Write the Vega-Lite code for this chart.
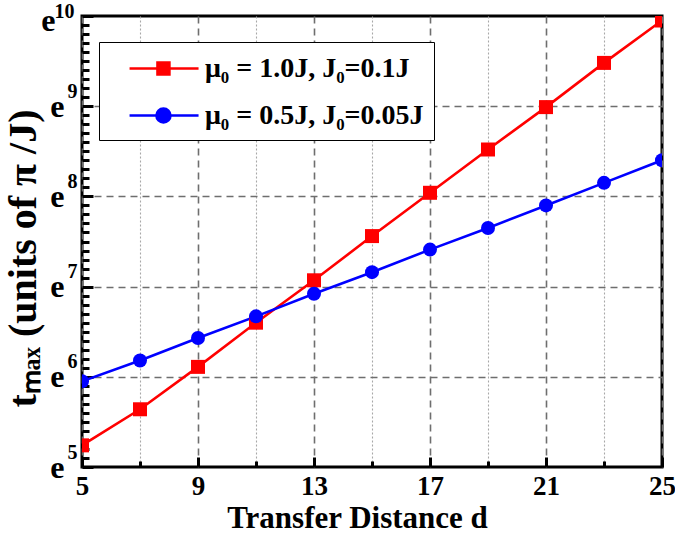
{
  "$schema": "https://vega.github.io/schema/vega-lite/v6.json",
  "width": 580,
  "height": 451,
  "autosize": {"type": "none"},
  "padding": {"left": 82, "top": 16, "right": 13, "bottom": 67},
  "background": "white",
  "config": {
    "view": {"stroke": "black", "strokeWidth": 3},
    "font": "Liberation Serif"
  },
  "data": {
    "values": [
      {"d": 5, "ln_t": 5.24, "series": "μ₀ = 1.0J, J₀=0.1J"},
      {"d": 7, "ln_t": 5.64, "series": "μ₀ = 1.0J, J₀=0.1J"},
      {"d": 9, "ln_t": 6.11, "series": "μ₀ = 1.0J, J₀=0.1J"},
      {"d": 11, "ln_t": 6.60, "series": "μ₀ = 1.0J, J₀=0.1J"},
      {"d": 13, "ln_t": 7.07, "series": "μ₀ = 1.0J, J₀=0.1J"},
      {"d": 15, "ln_t": 7.56, "series": "μ₀ = 1.0J, J₀=0.1J"},
      {"d": 17, "ln_t": 8.04, "series": "μ₀ = 1.0J, J₀=0.1J"},
      {"d": 19, "ln_t": 8.52, "series": "μ₀ = 1.0J, J₀=0.1J"},
      {"d": 21, "ln_t": 8.99, "series": "μ₀ = 1.0J, J₀=0.1J"},
      {"d": 23, "ln_t": 9.48, "series": "μ₀ = 1.0J, J₀=0.1J"},
      {"d": 25, "ln_t": 9.95, "series": "μ₀ = 1.0J, J₀=0.1J"},
      {"d": 5, "ln_t": 5.95, "series": "μ₀ = 0.5J, J₀=0.05J"},
      {"d": 7, "ln_t": 6.18, "series": "μ₀ = 0.5J, J₀=0.05J"},
      {"d": 9, "ln_t": 6.43, "series": "μ₀ = 0.5J, J₀=0.05J"},
      {"d": 11, "ln_t": 6.67, "series": "μ₀ = 0.5J, J₀=0.05J"},
      {"d": 13, "ln_t": 6.92, "series": "μ₀ = 0.5J, J₀=0.05J"},
      {"d": 15, "ln_t": 7.16, "series": "μ₀ = 0.5J, J₀=0.05J"},
      {"d": 17, "ln_t": 7.41, "series": "μ₀ = 0.5J, J₀=0.05J"},
      {"d": 19, "ln_t": 7.65, "series": "μ₀ = 0.5J, J₀=0.05J"},
      {"d": 21, "ln_t": 7.90, "series": "μ₀ = 0.5J, J₀=0.05J"},
      {"d": 23, "ln_t": 8.15, "series": "μ₀ = 0.5J, J₀=0.05J"},
      {"d": 25, "ln_t": 8.40, "series": "μ₀ = 0.5J, J₀=0.05J"}
    ]
  },
  "encoding": {
    "x": {
      "field": "d",
      "type": "quantitative",
      "scale": {"domain": [5, 25], "nice": false, "zero": false},
      "axis": {
        "values": [5, 7, 9, 11, 13, 15, 17, 19, 21, 23, 25],
        "labelExpr": "datum.value % 4 == 1 ? datum.label : ''",
        "domain": false,
        "grid": true,
        "gridColor": {"condition": {"test": "datum.value % 4 == 1", "value": "#6e6e6e"}, "value": "#a8a8a8"},
        "gridDash": {"condition": {"test": "datum.value % 4 == 1", "value": [7, 5]}, "value": [2, 2]},
        "gridWidth": {"condition": {"test": "datum.value % 4 == 1", "value": 1.6}, "value": 1.1},
        "tickSize": {"condition": {"test": "datum.value % 4 == 1", "value": -10}, "value": -6},
        "tickWidth": 3,
        "tickColor": "black",
        "labelFont": "Liberation Serif",
        "labelFontWeight": "bold",
        "labelFontSize": 27,
        "labelColor": "black",
        "labelPadding": 16,
        "labelBaseline": "top",
        "labelFlush": false,
        "labelOverlap": false,
        "title": "Transfer Distance d",
        "titleFont": "Liberation Serif",
        "titleFontWeight": "bold",
        "titleFontSize": 31,
        "titleColor": "black",
        "titleBaseline": "alphabetic",
        "titleX": 275,
        "titleY": 60
      }
    },
    "color": {
      "field": "series",
      "type": "nominal",
      "scale": {"domain": ["μ₀ = 1.0J, J₀=0.1J", "μ₀ = 0.5J, J₀=0.05J"], "range": ["#ff0000", "#0000ff"]},
      "legend": {
        "orient": "none",
        "legendX": 17,
        "legendY": 26,
        "title": null,
        "strokeColor": "black",
        "fillColor": "white",
        "padding": 10,
        "labelFont": "Liberation Serif",
        "labelFontWeight": "bold",
        "labelFontSize": 28,
        "labelColor": "black",
        "labelOffset": 63,
        "labelLimit": 400,
        "rowPadding": 16,
        "symbolSize": 900,
        "symbolStrokeWidth": 2.5,
        "symbolOpacity": 1
      }
    }
  },
  "layer": [
    {
      "mark": {"type": "line", "strokeWidth": 2.6, "clip": true},
      "encoding": {
        "y": {
          "field": "ln_t",
          "type": "quantitative",
          "scale": {"domain": [5, 10], "nice": false, "zero": false},
          "axis": {
            "orient": "left",
            "values": [5, 5.1, 5.2, 5.3, 5.4, 5.5, 5.6, 5.7, 5.8, 5.9, 6, 6.1, 6.2, 6.3, 6.4, 6.5, 6.6, 6.7, 6.8, 6.9, 7, 7.1, 7.2, 7.3, 7.4, 7.5, 7.6, 7.7, 7.8, 7.9, 8, 8.1, 8.2, 8.3, 8.4, 8.5, 8.6, 8.7, 8.8, 8.9, 9, 9.1, 9.2, 9.3, 9.4, 9.5, 9.6, 9.7, 9.8, 9.9, 10],
            "labelExpr": "abs(datum.value - round(datum.value)) > 0.01 ? '' : 'e'",
            "domain": false,
            "grid": true,
            "gridColor": "#6e6e6e",
            "gridDash": [7, 5],
            "gridWidth": 1.6,
            "gridOpacity": {"condition": {"test": "abs(datum.value - round(datum.value)) < 0.01 && datum.value > 5.5 && datum.value < 9.5", "value": 1}, "value": 0},
            "tickSize": {"condition": {"test": "abs(datum.value - round(datum.value)) < 0.01", "value": -11}, "value": -7},
            "tickWidth": 3,
            "tickColor": "black",
            "labelFont": "Liberation Serif",
            "labelFontWeight": "bold",
            "labelFontSize": 32,
            "labelColor": "black",
            "labelPadding": {"condition": {"test": "datum.value > 9.5", "value": 38}, "value": 29},
            "labelBaseline": "alphabetic",
            "labelOffset": {"condition": {"test": "datum.value > 9.5", "value": 14}, "value": 10},
            "labelFlush": false,
            "labelOverlap": false,
            "title": "tₘₐₓ (units of π /J)",
            "titleFont": "Liberation Serif",
            "titleFontWeight": "bold",
            "titleFontSize": 40,
            "titleColor": "black",
            "titleBaseline": "alphabetic",
            "titleX": -47,
            "titleY": 242
          }
        }
      }
    },
    {
      "transform": [{"filter": "datum.series == 'μ₀ = 1.0J, J₀=0.1J'"}],
      "mark": {"type": "point", "shape": "square", "filled": true, "size": 196, "opacity": 1, "clip": true},
      "encoding": {
        "y": {"field": "ln_t", "type": "quantitative", "axis": null}
      }
    },
    {
      "transform": [{"filter": "datum.series == 'μ₀ = 0.5J, J₀=0.05J'"}],
      "mark": {"type": "point", "shape": "circle", "filled": true, "size": 196, "opacity": 1, "clip": true},
      "encoding": {
        "y": {"field": "ln_t", "type": "quantitative", "axis": null}
      }
    },
    {
      "transform": [{"filter": "datum.d < 0"}],
      "mark": {"type": "point", "filled": true, "strokeWidth": 2.5, "opacity": 1},
      "encoding": {
        "y": {
          "field": "ln_t",
          "type": "quantitative",
          "axis": {
            "orient": "left",
            "values": [5, 6, 7, 8, 9, 10],
            "domain": false,
            "grid": false,
            "ticks": false,
            "labelFont": "Liberation Serif",
            "labelFontWeight": "bold",
            "labelFontSize": 20,
            "labelColor": "black",
            "labelPadding": {"condition": {"test": "datum.value > 9.5", "value": 8}, "value": 5},
            "labelBaseline": "alphabetic",
            "labelOffset": {"condition": {"test": "datum.value > 9.5", "value": 1}, "value": -9},
            "labelFlush": false,
            "labelOverlap": false,
            "title": null
          }
        },
        "shape": {
          "field": "series",
          "type": "nominal",
          "scale": {
            "domain": ["μ₀ = 1.0J, J₀=0.1J", "μ₀ = 0.5J, J₀=0.05J"],
            "range": ["M0.27,0H4.87M2.13,-0.4H2.93V0.4H2.13Z", "M0.27,0H4.87M2.06,0A0.47,0.47 0 1,1 3.0,0A0.47,0.47 0 1,1 2.06,0Z"]
          }
        },
        "stroke": {
          "field": "series",
          "type": "nominal",
          "scale": {"domain": ["μ₀ = 1.0J, J₀=0.1J", "μ₀ = 0.5J, J₀=0.05J"], "range": ["#ff0000", "#0000ff"]}
        }
      }
    }
  ],
  "resolve": {"axis": {"y": "independent"}}
}
